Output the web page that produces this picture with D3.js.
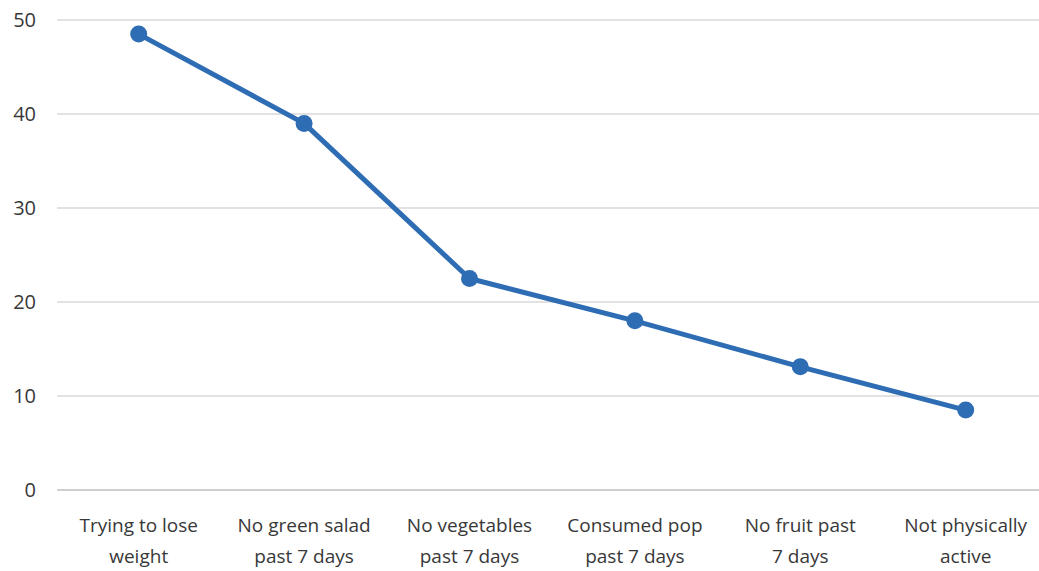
<!DOCTYPE html>
<html>
<head>
<meta charset="utf-8">
<script src="https://cdn.jsdelivr.net/npm/d3@7"></script>
<style>
  html, body { margin: 0; padding: 0; background: #fff; }
  svg { display: block; }
  text { font-family: "Open Sans", "Liberation Sans", sans-serif; fill: #383838; }
</style>
</head>
<body>
<svg id="chart" width="1039" height="571"></svg>
<script>
// Share of respondents by health behaviour
const categories = [
  ["Trying to lose", "weight"],
  ["No green salad", "past 7 days"],
  ["No vegetables", "past 7 days"],
  ["Consumed pop", "past 7 days"],
  ["No fruit past", "7 days"],
  ["Not physically", "active"]
];
const values = [48.5, 39.0, 22.5, 18.0, 13.1, 8.5];
const yTicks = [0, 10, 20, 30, 40, 50];

const width = 1039, height = 571;
const plotLeft = 56, plotTop = 20, plotBottom = 490;
const step = 165.4;

const svg = d3.select("#chart");

const x = d3.scaleBand()
  .domain(d3.range(categories.length))
  .range([plotLeft, plotLeft + step * categories.length])
  .padding(0);

const y = d3.scaleLinear().domain([0, 50]).range([plotBottom, plotTop]);

// Horizontal gridlines
svg.append("g").selectAll("line")
  .data(yTicks)
  .join("line")
  .attr("x1", plotLeft + 1)
  .attr("x2", width)
  .attr("y1", d => y(d))
  .attr("y2", d => y(d))
  .attr("stroke", d => d === 0 ? "#bfbfbf" : "#d9d9d9")
  .attr("stroke-width", d => d === 0 ? 1.5 : 1.3);

// Y tick labels
svg.append("g").selectAll("text")
  .data(yTicks)
  .join("text")
  .attr("x", 36)
  .attr("y", d => y(d))
  .attr("dy", "0.35em")
  .attr("text-anchor", "end")
  .style("font-size", "20px")
  .text(d => d);

// Category labels (two lines each)
const cx = i => x(i) + x.bandwidth() / 2;
const lbl = svg.append("g").selectAll("text")
  .data(categories)
  .join("text")
  .attr("text-anchor", "middle")
  .style("font-size", "19px")
  .attr("transform", (d, i) => `translate(${cx(i)},0)`);
lbl.selectAll("tspan")
  .data(d => d)
  .join("tspan")
  .attr("x", 0)
  .attr("y", (d, j) => 532 + j * 31)
  .text(d => d);

// Series line and markers
const line = d3.line()
  .x((d, i) => cx(i))
  .y(d => y(d));

svg.append("path")
  .datum(values)
  .attr("d", line)
  .attr("fill", "none")
  .attr("stroke", "#2e6db4")
  .attr("stroke-width", 5)
  .attr("stroke-linejoin", "round");

svg.append("g").selectAll("circle")
  .data(values)
  .join("circle")
  .attr("cx", (d, i) => cx(i))
  .attr("cy", d => y(d))
  .attr("r", 8.5)
  .attr("fill", "#2e6db4");
</script>
</body>
</html>
